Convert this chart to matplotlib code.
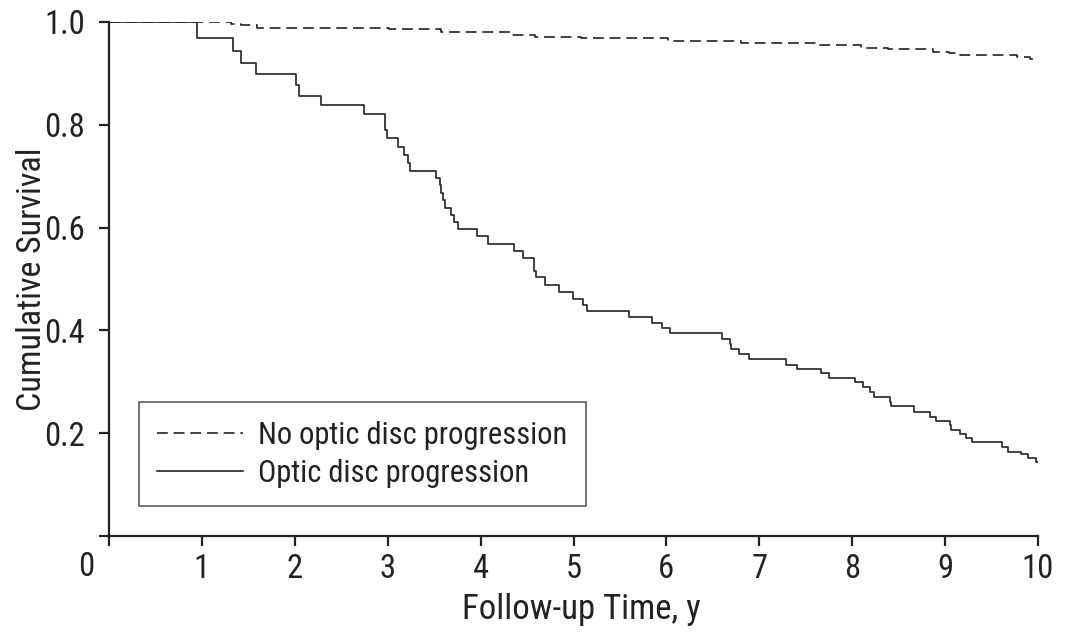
import matplotlib
matplotlib.use("Agg")
import matplotlib.pyplot as plt

plt.rcParams['font.family'] = ['Roboto Condensed', 'Liberation Sans Narrow',
                               'Liberation Sans', 'DejaVu Sans']

# Kaplan-Meier step data (time in years, survival after the step)
no_prog_t = [0, 1.31, 1.42, 1.59, 3.01, 3.57, 4.34, 4.59, 5.08, 6.02, 6.80,
             7.62, 8.10, 8.39, 8.87, 9.04, 9.16, 9.77, 9.91, 10.0]
no_prog_s = [1.0, 0.996, 0.994, 0.989, 0.986, 0.981, 0.975, 0.971, 0.968, 0.964, 0.959,
             0.955, 0.950, 0.947, 0.942, 0.940, 0.936, 0.931, 0.928, 0.928]

prog_t = [0, 0.95, 1.34, 1.42, 1.58, 2.01, 2.04, 2.28, 2.75, 2.97, 2.99,
          3.11, 3.18, 3.22, 3.24, 3.52, 3.56, 3.57, 3.59, 3.62, 3.68,
          3.71, 3.76, 3.96, 4.08, 4.36, 4.46, 4.57, 4.58, 4.60, 4.69,
          4.84, 4.99, 5.10, 5.15, 5.60, 5.85, 5.95, 6.04, 6.60, 6.68,
          6.69, 6.78, 6.89, 7.29, 7.41, 7.66, 7.75, 8.03, 8.12, 8.19,
          8.24, 8.41, 8.42, 8.67, 8.84, 8.90, 9.05, 9.06, 9.16, 9.22,
          9.29, 9.61, 9.68, 9.82, 9.89, 9.98, 10.0]
prog_s = [1.0, 0.969, 0.944, 0.921, 0.898, 0.877, 0.857, 0.838, 0.821, 0.790, 0.774,
          0.757, 0.741, 0.725, 0.711, 0.697, 0.683, 0.668, 0.654, 0.639, 0.625,
          0.611, 0.597, 0.584, 0.569, 0.555, 0.541, 0.527, 0.516, 0.503, 0.488,
          0.475, 0.462, 0.449, 0.438, 0.427, 0.415, 0.404, 0.394, 0.383, 0.373,
          0.363, 0.354, 0.344, 0.333, 0.325, 0.317, 0.307, 0.299, 0.289, 0.280,
          0.270, 0.261, 0.253, 0.241, 0.232, 0.224, 0.216, 0.206, 0.198, 0.191,
          0.182, 0.173, 0.164, 0.160, 0.151, 0.144, 0.144]

x_ticks = [0, 1, 2, 3, 4, 5, 6, 7, 8, 9, 10]
x_labels = ['', '1', '2', '3', '4', '5', '6', '7', '8', '9', '10']
y_ticks = [0, 0.2, 0.4, 0.6, 0.8, 1.0]
y_labels = ['', '0.2', '0.4', '0.6', '0.8', '1.0']

ink = '#222222'
fig = plt.figure(figsize=(10.65, 6.35), dpi=100)
ax = fig.add_axes([109 / 1065, 1 - 536 / 635, (1038 - 109) / 1065, (536 - 22) / 635])

ax.step(no_prog_t, no_prog_s, where='post', color=ink, lw=1.2,
        linestyle=(0, (6.5, 3.5)), label='No optic disc progression')
ax.step(prog_t, prog_s, where='post', color=ink, lw=1.2,
        label='Optic disc progression')

ax.set_xlim(0, 10)
ax.set_ylim(0, 1.0)
ax.set_xticks(x_ticks)
ax.set_xticklabels(x_labels)
ax.set_yticks(y_ticks)
ax.set_yticklabels(y_labels)
ax.spines['top'].set_visible(False)
ax.spines['right'].set_visible(False)
for s in ['left', 'bottom']:
    ax.spines[s].set_linewidth(1.6)
    ax.spines[s].set_color(ink)
ax.tick_params(direction='out', length=7.5, width=1.6, colors=ink,
               labelsize=23.5, labelcolor=ink)
ax.tick_params(axis='y', pad=10)
ax.tick_params(axis='x', pad=5)
ax.text(-0.25, -0.0603, '0', ha='center', va='center', fontsize=23.5, color=ink)

ax.set_xlabel('Follow-up Time, y', fontsize=25, color=ink)
ax.xaxis.set_label_coords(0.508, -0.11)
ax.set_ylabel('Cumulative Survival', fontsize=24.5, color=ink)
ax.yaxis.set_label_coords(-0.066, 0.5)

leg = ax.legend(loc='lower left', bbox_to_anchor=(30 / 929, 30 / 514),
                borderaxespad=0, fontsize=22,
                frameon=True, fancybox=False, handlelength=2.8, handletextpad=0.5,
                borderpad=0.6, labelspacing=0.3, labelcolor=ink)
leg.get_frame().set_edgecolor(ink)
leg.get_frame().set_linewidth(1.1)

fig.savefig('out.png', dpi=100)
